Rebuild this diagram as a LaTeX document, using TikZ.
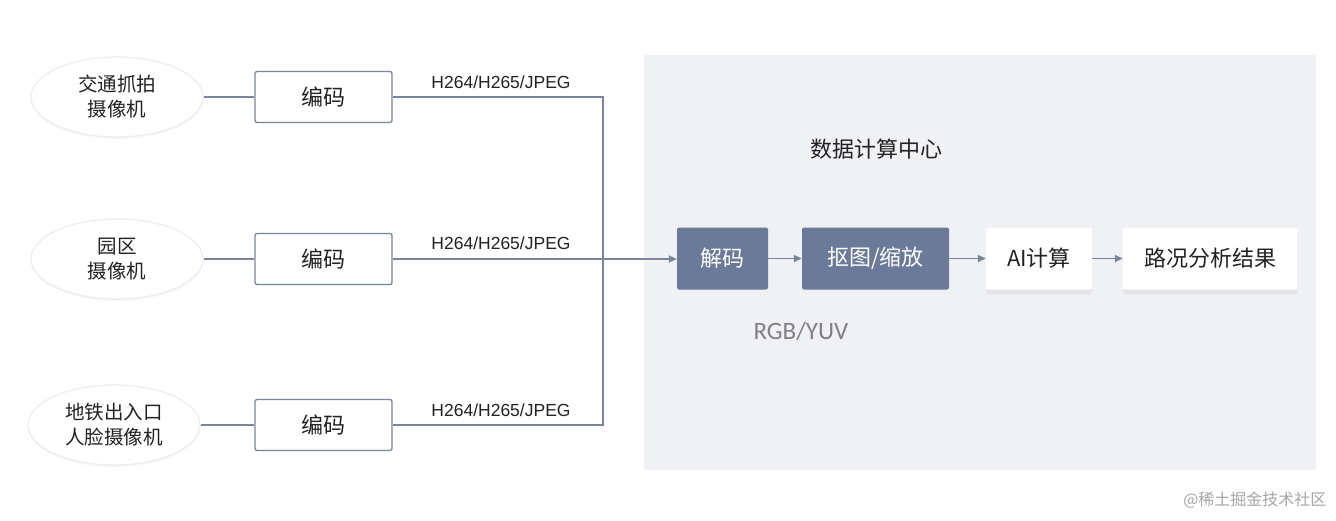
\documentclass[tikz,border=0pt]{standalone}
\usepackage{fontspec}
\setmainfont{Liberation Sans}
\newfontfamily\cjk{Noto Sans CJK SC}
\newfontfamily\rgbfont{Carlito}
\usetikzlibrary{shapes.geometric,arrows.meta,shadows}
\definecolor{linec}{HTML}{7A849A}
\definecolor{darkbox}{HTML}{6B7A99}
\definecolor{panel}{HTML}{F0F1F4}
\definecolor{txt}{HTML}{222222}
\begin{document}
\begin{tikzpicture}[x=1pt,y={(0pt,-1pt)},
  cam/.style={ellipse, draw=black!7, line width=1.2pt, fill=white,
    minimum width=172pt, minimum height=80pt, inner sep=0pt, align=center,
    font=\cjk\fontsize{19.5}{25}\selectfont, text=txt,
    drop shadow={opacity=0.06, shadow xshift=0pt, shadow yshift=-2pt}},
  enc/.style={draw=linec, line width=1.3pt, rounded corners=2pt, fill=white,
    minimum width=137pt, minimum height=51pt, inner sep=0pt,
    font=\cjk\fontsize{22}{26}\selectfont, text=txt},
  lab/.style={font=\fontsize{17.5}{20}\selectfont, text=txt, inner sep=0pt},
  dark/.style={fill=darkbox, rounded corners=2pt, minimum height=62pt, inner sep=0pt,
    font=\cjk\fontsize{22}{26}\selectfont, text=white},
  wbox/.style={fill=white, rounded corners=2pt, minimum height=62pt, inner sep=0pt,
    font=\cjk\fontsize{22}{26}\selectfont, text=txt,
    drop shadow={opacity=0.10, shadow xshift=0pt, shadow yshift=-5pt}},
  conn/.style={draw=linec, line width=1.6pt},
  arr/.style={conn, -{Triangle[length=8pt,width=7pt]}}
]
\useasboundingbox (0,0) rectangle (1336,520);
\fill[white] (0,0) rectangle (1336,520);
% panel
\fill[panel] (644,55) rectangle (1316,470);
\node[font=\cjk\fontsize{22}{26}\selectfont, text=txt] (title) at (876,149) {数据计算中心};

% cameras
\node[cam] (c1) at (117,97) {交通抓拍\\摄像机};
\node[cam] (c2) at (117,259) {园区\\摄像机};
\node[cam] (c3) at (114,425) {地铁出入口\\人脸摄像机};

% encoders
\node[enc] (e1) at (323.5,97) {编码};
\node[enc] (e2) at (323.5,259) {编码};
\node[enc] (e3) at (323.5,425) {编码};

\node[lab] (l1) at (501,82) {H264/H265/JPEG};
\node[lab] (l2) at (501,243) {H264/H265/JPEG};
\node[lab] (l3) at (501,410) {H264/H265/JPEG};

% processing
\node[dark, minimum width=91pt] (dec) at (722.5,258.5) {解码};
\node[dark, minimum width=147pt] (crop) at (875.5,258.5) {抠图/缩放};
\node[wbox, minimum width=106pt] (ai) at (1039,258.5) {AI计算};
\node[wbox, minimum width=174pt] (res) at (1210,258.5) {路况分析结果};

\node[font=\rgbfont\fontsize{25}{28}\selectfont, text=black!50] (rgb) at (801,331) {RGB/YUV};

% connectors
\coordinate (jn) at (603,259);
\draw[conn] (c1) -- (e1);
\draw[conn] (c2) -- (e2);
\draw[conn] (c3) -- (e3);
\draw[conn] (e1.east) -| (jn);
\draw[conn] (e3.east) -| (jn);
\draw[arr] (e2.east) -- (e2.east -| dec.west);
\draw[arr] (dec) -- (crop);
\draw[arr] (crop) -- (ai);
\draw[arr] (ai) -- (res);

% watermark
\node[font=\cjk\fontsize{16}{18}\selectfont, text=black!35, anchor=east] (wm) at (1330,500) {@稀土掘金技术社区};
\end{tikzpicture}
\end{document}
